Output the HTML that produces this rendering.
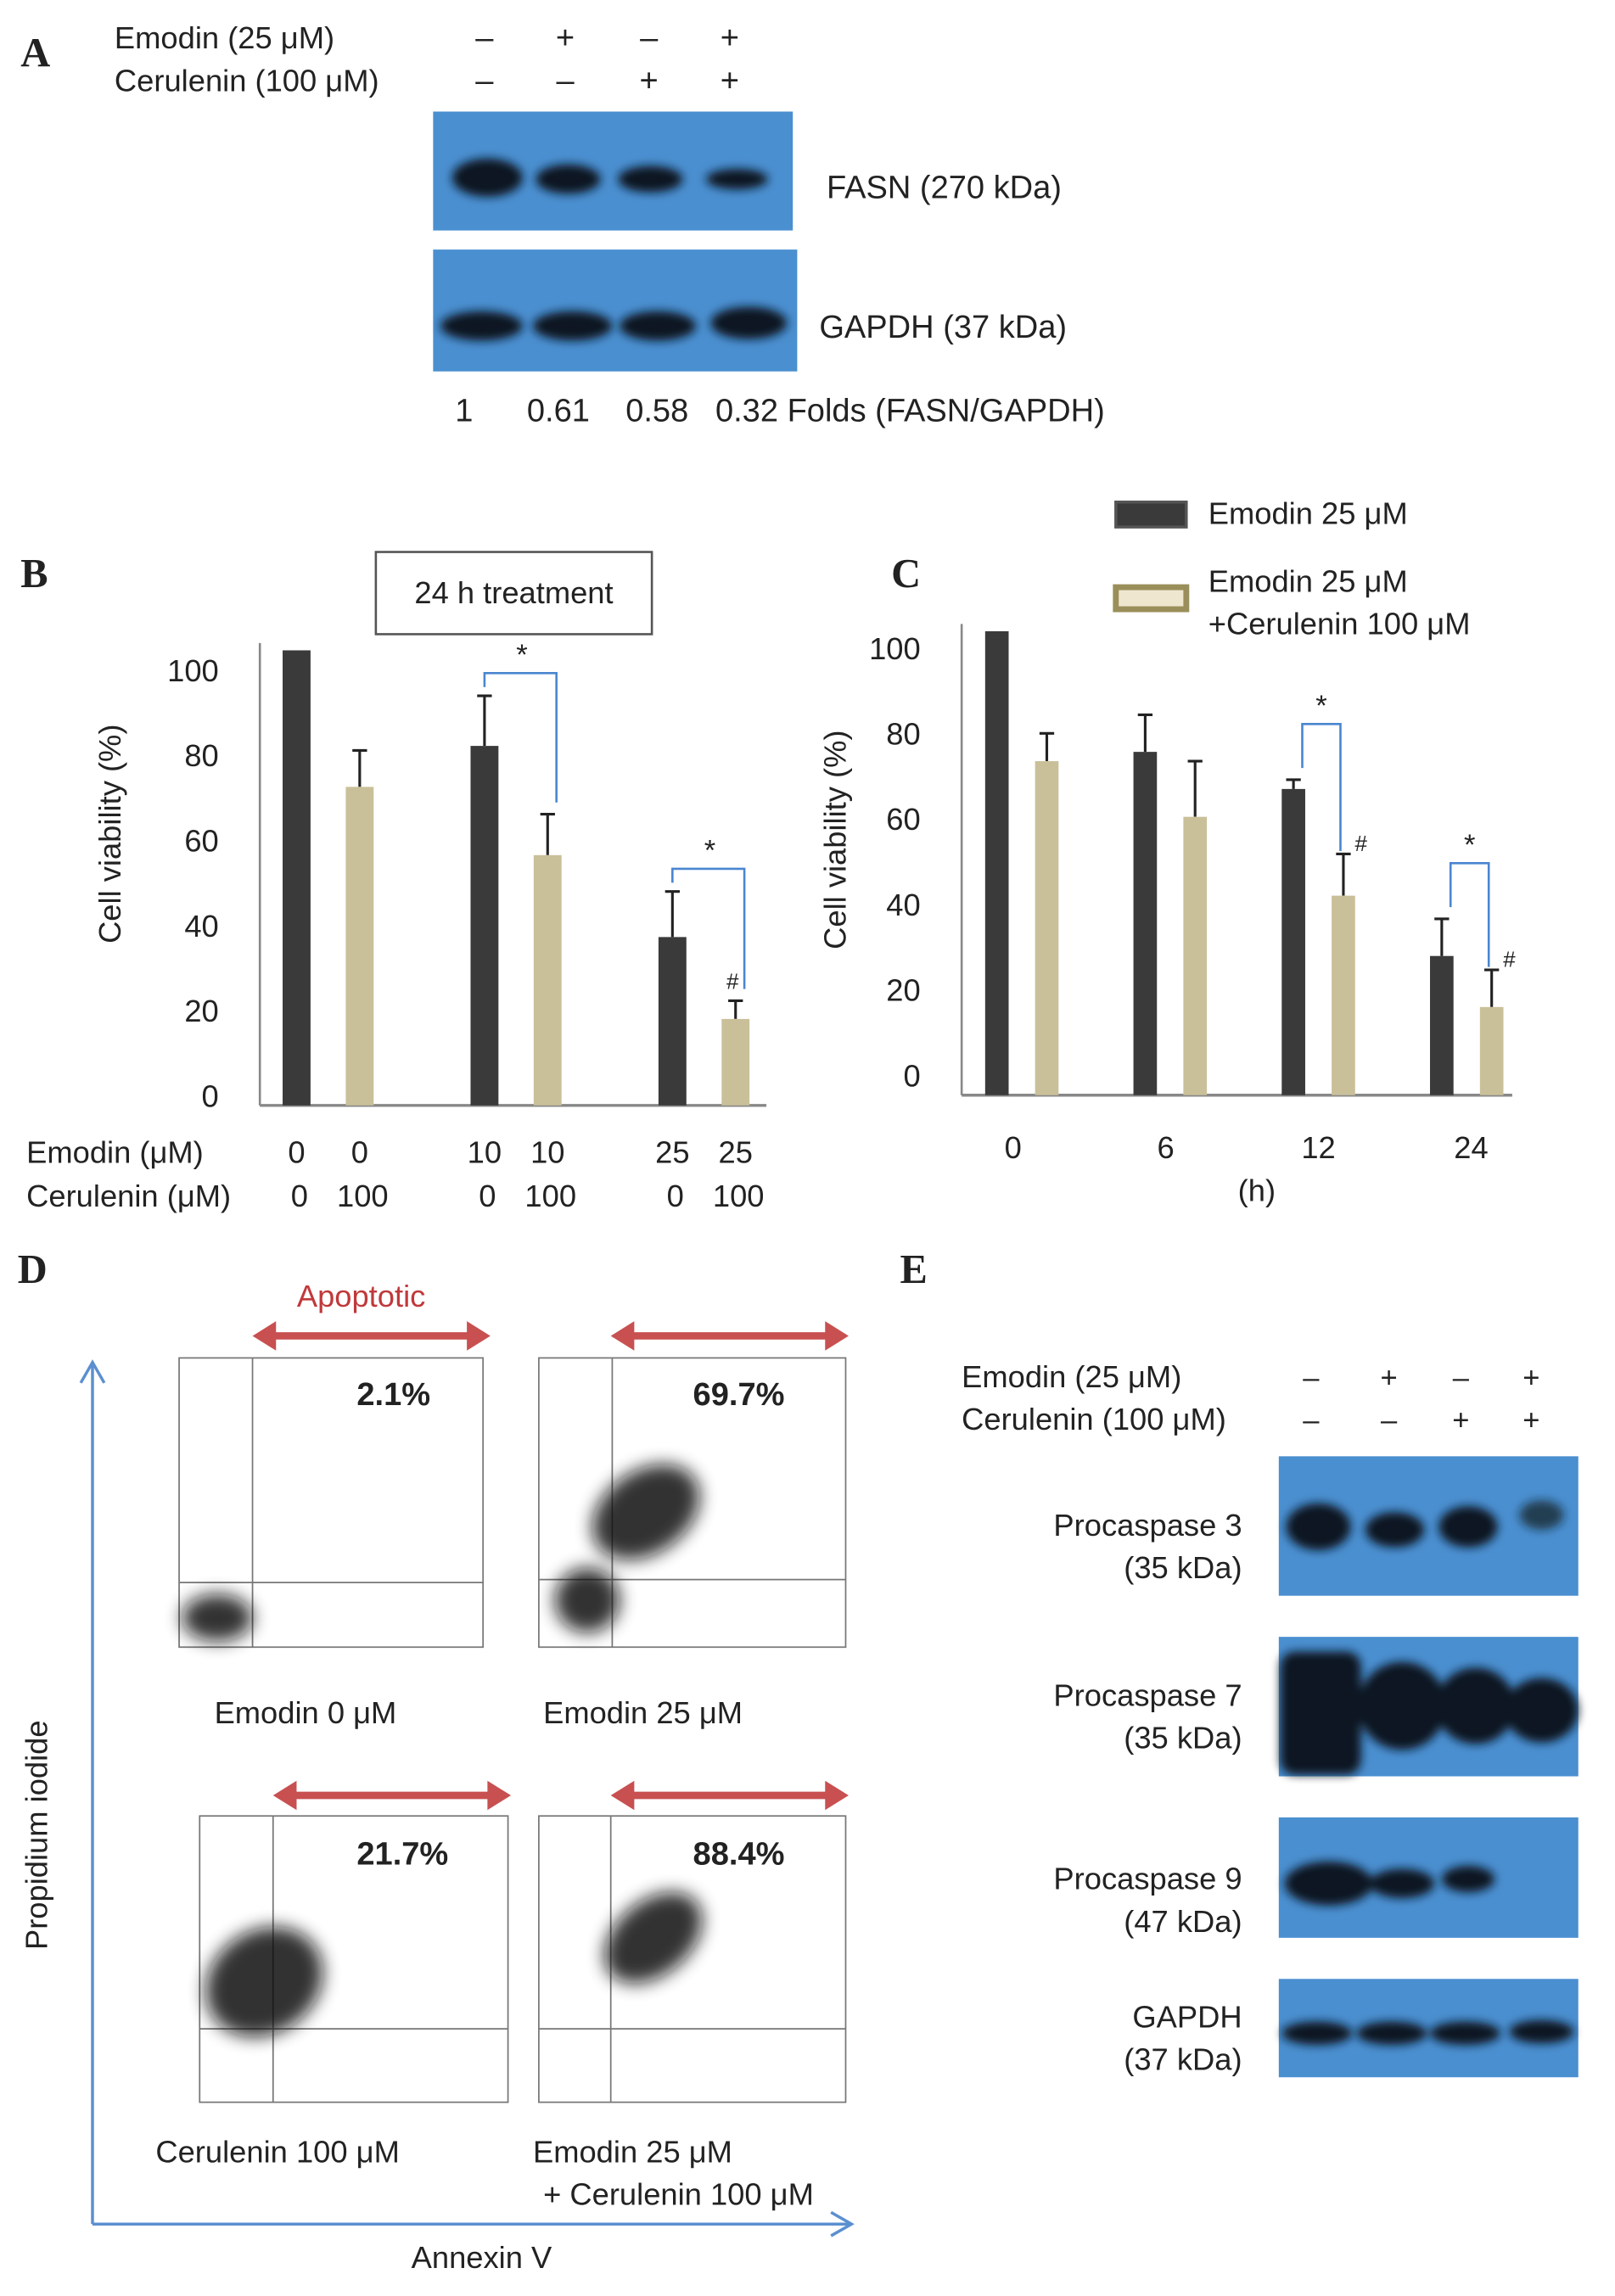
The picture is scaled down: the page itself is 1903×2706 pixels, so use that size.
<!DOCTYPE html>
<html><head><meta charset="utf-8"><style>
html,body{margin:0;padding:0;background:#fff}
svg{display:block}
text{font-family:"Liberation Sans",sans-serif;fill:#222}
.lbl{font-family:"Liberation Serif",serif;font-weight:bold;font-size:28px}
</style></head><body>
<svg id="fig" width="1903" height="2706" viewBox="0 0 1100 1564" preserveAspectRatio="none" xmlns="http://www.w3.org/2000/svg">
<defs>
<filter id="bl" x="-50%" y="-50%" width="200%" height="200%"><feGaussianBlur stdDeviation="3"/></filter>
<filter id="bl2" x="-50%" y="-50%" width="200%" height="200%"><feGaussianBlur stdDeviation="6"/></filter>
</defs>
<!-- Panel A -->
<g>
<text class="lbl" x="14" y="45">A</text>
<text x="78" y="33" font-size="21">Emodin (25 μM)</text>
<text x="78" y="62" font-size="21">Cerulenin (100 μM)</text>
<g font-size="22" text-anchor="middle">
<text x="330" y="33">–</text><text x="385" y="33">+</text><text x="442" y="33">–</text><text x="497" y="33">+</text>
<text x="330" y="62">–</text><text x="385" y="62">–</text><text x="442" y="62">+</text><text x="497" y="62">+</text>
</g>
<rect x="295" y="76" width="245" height="81" fill="#4a8fd0"/>
<g fill="#101820" filter="url(#bl)">
<ellipse cx="332" cy="121" rx="24" ry="13"/><ellipse cx="387" cy="122" rx="22" ry="10"/><ellipse cx="443" cy="122" rx="22" ry="9"/><ellipse cx="502" cy="122" rx="21" ry="7"/>
</g>
<text x="563" y="135" font-size="22">FASN (270 kDa)</text>
<rect x="295" y="170" width="248" height="83" fill="#4a8fd0"/>
<g fill="#101820" filter="url(#bl)">
<ellipse cx="328" cy="222" rx="28" ry="10"/><ellipse cx="390" cy="222" rx="27" ry="10"/><ellipse cx="448" cy="222" rx="26" ry="10"/><ellipse cx="510" cy="220" rx="26" ry="11"/>
</g>
<text x="558" y="230" font-size="22">GAPDH (37 kDa)</text>
<text x="310" y="287" font-size="22">1&#160;&#160;&#160;&#160;&#160;&#160;0.61&#160;&#160;&#160;&#160;0.58&#160;&#160;&#160;0.32 Folds (FASN/GAPDH)</text>
</g>
<!-- Panel B -->
<g id="panelB">
<text class="lbl" x="14" y="400">B</text>
<rect x="256" y="376" width="188" height="56" fill="#fff" stroke="#555" stroke-width="1.5"/>
<text x="350" y="411" font-size="21" text-anchor="middle">24 h treatment</text>
<text transform="translate(82,568) rotate(-90)" font-size="21" text-anchor="middle">Cell viability (%)</text>
<text x="18" y="792" font-size="21">Emodin (μM)</text>
<text x="18" y="822" font-size="21">Cerulenin (μM)</text>
</g>
<!-- Panel C -->
<g id="panelC">
<text class="lbl" x="607" y="400">C</text>
<rect x="760" y="342" width="48" height="17" fill="#3a3a3a" stroke="#555" stroke-width="2"/>
<text x="823" y="357" font-size="21">Emodin 25 μM</text>
<rect x="760" y="400" width="48" height="15" fill="#efe6d0" stroke="#9a8f5a" stroke-width="4"/>
<text x="823" y="403" font-size="21">Emodin 25 μM</text>
<text x="823" y="432" font-size="21">+Cerulenin 100 μM</text>
<text transform="translate(576,572) rotate(-90)" font-size="21" text-anchor="middle">Cell viability (%)</text>
<text x="856" y="818" font-size="21" text-anchor="middle">(h)</text>
</g>
<!-- Panel D -->
<g>
<text class="lbl" x="12" y="874">D</text>
<text x="246" y="890" font-size="21" fill="#c0393b" style="fill:#c0393b" text-anchor="middle">Apoptotic</text>
<g stroke="#c85050" stroke-width="5" fill="#c85050">
<line x1="180" y1="910" x2="326" y2="910"/><line x1="424" y1="910" x2="570" y2="910"/>
<line x1="194" y1="1223" x2="340" y2="1223"/><line x1="424" y1="1223" x2="570" y2="1223"/>
</g>
<g fill="#c85050">
<polygon points="172,910 188,900 188,920"/><polygon points="334,910 318,900 318,920"/>
<polygon points="416,910 432,900 432,920"/><polygon points="578,910 562,900 562,920"/>
<polygon points="186,1223 202,1213 202,1233"/><polygon points="348,1223 332,1213 332,1233"/>
<polygon points="416,1223 432,1213 432,1233"/><polygon points="578,1223 562,1213 562,1233"/>
</g>
<g stroke="#5b8fd0" stroke-width="2" fill="none">
<line x1="63" y1="1515" x2="63" y2="930"/><polyline points="55,942 63,928 71,942"/>
<line x1="63" y1="1515" x2="578" y2="1515"/><polyline points="566,1507 580,1515 566,1523"/>
</g>
<text transform="translate(32,1250) rotate(-90)" font-size="21" text-anchor="middle">Propidium iodide</text>
<text x="328" y="1545" font-size="21" text-anchor="middle">Annexin V</text>
<g stroke="#777" stroke-width="1" fill="#fff">
<rect x="122" y="925" width="207" height="197"/>
<rect x="367" y="925" width="209" height="197"/>
<rect x="136" y="1237" width="210" height="195"/>
<rect x="367" y="1237" width="209" height="195"/>
<line x1="172" y1="925" x2="172" y2="1122"/><line x1="122" y1="1078" x2="329" y2="1078"/>
<line x1="417" y1="925" x2="417" y2="1122"/><line x1="367" y1="1076" x2="576" y2="1076"/>
<line x1="186" y1="1237" x2="186" y2="1432"/><line x1="136" y1="1382" x2="346" y2="1382"/>
<line x1="416" y1="1237" x2="416" y2="1432"/><line x1="367" y1="1382" x2="576" y2="1382"/>
</g>
<g fill="#111" filter="url(#bl2)" opacity="0.85">
<ellipse cx="148" cy="1102" rx="24" ry="16"/>
<ellipse cx="440" cy="1030" rx="40" ry="28" transform="rotate(-35 440 1030)"/>
<ellipse cx="400" cy="1090" rx="22" ry="22"/>
<ellipse cx="180" cy="1350" rx="42" ry="35" transform="rotate(-35 180 1350)"/>
<ellipse cx="445" cy="1320" rx="38" ry="25" transform="rotate(-40 445 1320)"/>
</g>
<g font-size="22" font-weight="bold">
<text x="243" y="957">2.1%</text><text x="472" y="957">69.7%</text>
<text x="243" y="1270">21.7%</text><text x="472" y="1270">88.4%</text>
</g>
<g font-size="21">
<text x="146" y="1174">Emodin 0 μM</text><text x="370" y="1174">Emodin 25 μM</text>
<text x="106" y="1473">Cerulenin 100 μM</text><text x="363" y="1473">Emodin 25 μM</text>
<text x="370" y="1502">+ Cerulenin 100 μM</text>
</g>
</g>
<!-- Panel E -->
<g>
<text class="lbl" x="613" y="874">E</text>
<text x="655" y="945" font-size="21">Emodin (25 μM)</text>
<text x="655" y="974" font-size="21">Cerulenin (100 μM)</text>
<g font-size="20" text-anchor="middle">
<text x="893" y="945">–</text><text x="946" y="945">+</text><text x="995" y="945">–</text><text x="1043" y="945">+</text>
<text x="893" y="974">–</text><text x="946" y="974">–</text><text x="995" y="974">+</text><text x="1043" y="974">+</text>
</g>
<g fill="#4a8fd0">
<rect x="871" y="992" width="204" height="95"/>
<rect x="871" y="1115" width="204" height="95"/>
<rect x="871" y="1238" width="204" height="82"/>
<rect x="871" y="1348" width="204" height="67"/>
</g>
<g fill="#101820" filter="url(#bl)">
<ellipse cx="898" cy="1040" rx="22" ry="16"/><ellipse cx="950" cy="1042" rx="20" ry="12"/><ellipse cx="1000" cy="1040" rx="20" ry="14"/><ellipse cx="1050" cy="1032" rx="15" ry="10" opacity="0.7"/>
<rect x="872" y="1125" width="55" height="84" rx="10"/><ellipse cx="955" cy="1162" rx="30" ry="30"/><ellipse cx="1005" cy="1162" rx="27" ry="26"/><ellipse cx="1050" cy="1165" rx="25" ry="22"/>
<ellipse cx="905" cy="1283" rx="30" ry="15"/><ellipse cx="955" cy="1283" rx="22" ry="10"/><ellipse cx="1000" cy="1280" rx="18" ry="9"/>
<ellipse cx="897" cy="1385" rx="24" ry="8"/><ellipse cx="948" cy="1385" rx="24" ry="8"/><ellipse cx="998" cy="1385" rx="24" ry="8"/><ellipse cx="1050" cy="1384" rx="22" ry="8"/>
</g>
<g font-size="21" text-anchor="end">
<text x="846" y="1046">Procaspase 3</text><text x="846" y="1075">(35 kDa)</text>
<text x="846" y="1162">Procaspase 7</text><text x="846" y="1191">(35 kDa)</text>
<text x="846" y="1287">Procaspase 9</text><text x="846" y="1316">(47 kDa)</text>
<text x="846" y="1381">GAPDH</text><text x="846" y="1410">(37 kDa)</text>
</g>
</g>
</svg>
<script>
// Panel B data
const bCatEmodin = ["0","0","10","10","25","25"];
const bCatCerulenin = ["0","100","0","100","0","100"];
const bDark = [100, 79, 37];
const bDarkErr = [0, 11, 10];
const bTan = [70, 55, 19];
const bTanErr = [8, 9, 4];
const bTicks = [0, 20, 40, 60, 80, 100];
// Panel C data
const cCats = ["0","6","12","24"];
const cDark = [100, 74, 66, 30];
const cDarkErr = [0, 8, 2, 8];
const cTan = [72, 60, 43, 19];
const cTanErr = [6, 12, 9, 8];
const cTicks = [0, 20, 40, 60, 80, 100];

const NS = "http://www.w3.org/2000/svg";
function mk(parent, tag, attrs, txt) {
  const e = document.createElementNS(NS, tag);
  for (const k in attrs) e.setAttribute(k, attrs[k]);
  if (txt !== undefined) e.textContent = txt;
  parent.appendChild(e);
  return e;
}
function drawChart(g, cfg) {
  const y = v => cfg.y0 - (cfg.y0 - cfg.y100) * v / 100;
  const ax = mk(g, "line", {x1: cfg.axX, y1: cfg.y100 - 5, x2: cfg.axX, y2: cfg.y0, stroke: "#888", "stroke-width": 1.5});
  
  
  const bx = mk(g, "line", {x1: cfg.axX, y1: cfg.y0, x2: cfg.axEnd, y2: cfg.y0, stroke: "#888", "stroke-width": 2});
  
  
  cfg.ticks.forEach(t => {
    const ty = cfg.l0 - (cfg.l0 - cfg.l100) * t / 100 + 8;
    const tx = mk(g, "text", {x: cfg.axX - 28, y: ty, "font-size": 21, "text-anchor": "end"}, String(t));
    
    
  });
  const series = [[cfg.dark, cfg.darkErr, cfg.darkX, "#3a3a3a", "bar-emodin"], [cfg.tan, cfg.tanErr, cfg.tanX, "#c9c09a", "bar-combo"]];
  series.forEach(([vals, errs, xs, col, nm]) => {
    vals.forEach((v, i) => {
      const x = xs(i);
      const top = y(v + errs[i]);
      if (errs[i] > 0) {
        const el = mk(g, "path", {d: `M${x} ${y(v)}V${top}M${x-5} ${top}H${x+5}`, stroke: "#222", "stroke-width": 1.8, fill: "none"});
        
        
      }
      const r = mk(g, "rect", {x: x - cfg.bw / 2, y: y(v), width: cfg.bw, height: cfg.y0 - y(v), fill: col});
      
      
    });
  });
  return y;
}
const gB = document.getElementById("panelB");
const yB = drawChart(gB, {axX: 177, axEnd: 522, y0: 753, y100: 443, l0: 746, l100: 456, ticks: bTicks, bw: 19,
  dark: bDark, darkErr: bDarkErr, tan: bTan, tanErr: bTanErr,
  darkX: i => 202 + i * 128, tanX: i => 245 + i * 128});
bCatEmodin.forEach((c, i) => {
  const x = (i % 2 ? 245 : 202) + Math.floor(i / 2) * 128;
  const t = mk(gB, "text", {x: x, y: 792, "font-size": 21, "text-anchor": "middle"}, c);
  
  
  const t2 = mk(gB, "text", {x: x + 2, y: 822, "font-size": 21, "text-anchor": "middle"}, bCatCerulenin[i]);
  
  
});
[1, 2].forEach(i => {
  const xd = 202 + i * 128, xt = 245 + i * 128;
  const top = yB(Math.max(bDark[i] + bDarkErr[i], bTan[i] + bTanErr[i]) + 5);
  const p = mk(gB, "path", {d: `M${xd} ${yB(bDark[i]+bDarkErr[i]) - 6}V${top}H${xt+6}V${yB(bTan[i]+bTanErr[i]) - 8}`, stroke: "#4a86d0", "stroke-width": 1.5, fill: "none"});
  
  
  const s = mk(gB, "text", {x: (xd + xt) / 2 + 4, y: top - 6, "font-size": 20, "text-anchor": "middle"}, "*");
  
  
});
const hb = mk(gB, "text", {x: 499, y: yB(bTan[2] + bTanErr[2]) - 8, "font-size": 15, "text-anchor": "middle"}, "#");



const gC = document.getElementById("panelC");
const yC = drawChart(gC, {axX: 655, axEnd: 1030, y0: 746, y100: 430, l0: 732, l100: 441, ticks: cTicks, bw: 16,
  dark: cDark, darkErr: cDarkErr, tan: cTan, tanErr: cTanErr,
  darkX: i => 679 + i * 101, tanX: i => 713 + i * 101});
cCats.forEach((c, i) => {
  const t = mk(gC, "text", {x: 690 + i * 104, y: 789, "font-size": 21, "text-anchor": "middle"}, c);
  
  
});
[2, 3].forEach(i => {
  const xd = 679 + i * 101, xt = 713 + i * 101;
  const top = yC(Math.max(cDark[i] + cDarkErr[i], cTan[i] + cTanErr[i]) + 12);
  const p = mk(gC, "path", {d: `M${xd+6} ${yC(cDark[i]+cDarkErr[i]) - 8}V${top}H${xt-2}V${yC(cTan[i]+cTanErr[i]) - 2}`, stroke: "#4a86d0", "stroke-width": 1.5, fill: "none"});
  
  
  const s = mk(gC, "text", {x: (xd + xt) / 2 + 2, y: top - 6, "font-size": 20, "text-anchor": "middle"}, "*");
  
  
  const h = mk(gC, "text", {x: xt + 12, y: yC(cTan[i] + cTanErr[i]) - 2, "font-size": 15, "text-anchor": "middle"}, "#");
  
  
});
</script>
</body></html>
